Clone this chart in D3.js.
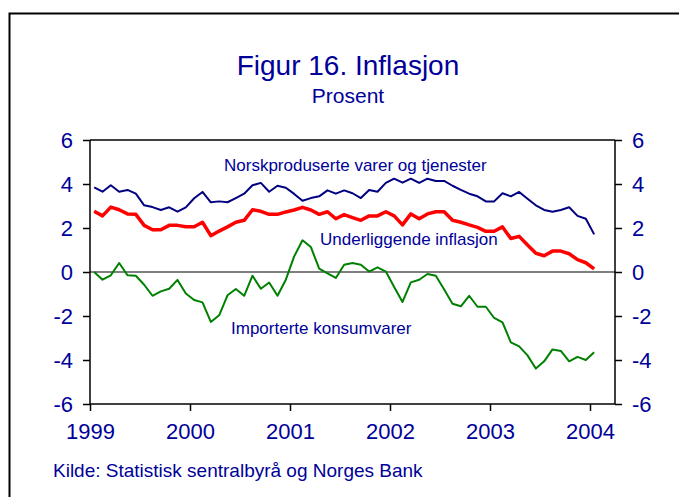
<!DOCTYPE html>
<html>
<head>
<meta charset="utf-8">
<script src="https://cdn.jsdelivr.net/npm/d3@7"></script>
<style>
  html, body { margin: 0; padding: 0; background: #fff; }
  svg { display: block; font-family: "Liberation Sans", Arial, sans-serif; }
</style>
</head>
<body>
<svg id="chart" width="679" height="497"></svg>
<script>
// ---- Data (monthly, Jan 1999 – Jan 2004, 12-month change in percent) ----
const startYear = 1999;
const yearTicks = [1999, 2000, 2001, 2002, 2003, 2004];
const yTicks = [-6, -4, -2, 0, 2, 4, 6];

const norskproduserte = [
  3.85, 3.65, 3.94, 3.65, 3.73, 3.56, 3.03, 2.95, 2.82, 2.94, 2.74, 2.94,
  3.35, 3.64, 3.17, 3.21, 3.17, 3.36, 3.56, 3.94, 4.05, 3.65, 3.92, 3.83,
  3.55, 3.24, 3.36, 3.44, 3.71, 3.56, 3.71, 3.58, 3.36, 3.73, 3.65, 4.05,
  4.24, 4.06, 4.24, 4.05, 4.24, 4.14, 4.14, 3.92, 3.73, 3.56, 3.44, 3.21,
  3.21, 3.58, 3.44, 3.64, 3.33, 3.03, 2.82, 2.74, 2.82, 2.94, 2.55, 2.42,
  1.71
];
const underliggende = [
  2.76, 2.55, 2.95, 2.83, 2.64, 2.62, 2.12, 1.92, 1.92, 2.12, 2.12, 2.06,
  2.06, 2.26, 1.65, 1.86, 2.05, 2.26, 2.35, 2.83, 2.76, 2.62, 2.62, 2.73,
  2.82, 2.94, 2.82, 2.62, 2.74, 2.42, 2.61, 2.47, 2.35, 2.55, 2.55, 2.74,
  2.55, 2.14, 2.64, 2.42, 2.64, 2.74, 2.74, 2.35, 2.26, 2.14, 2.03, 1.85,
  1.85, 2.05, 1.52, 1.62, 1.23, 0.85, 0.74, 0.95, 0.95, 0.83, 0.56, 0.42,
  0.14
];
const importerte = [
  0.00, -0.35, -0.15, 0.41, -0.15, -0.17, -0.58, -1.08, -0.88, -0.76, -0.36, -0.98,
  -1.27, -1.38, -2.27, -1.97, -1.06, -0.77, -1.08, -0.17, -0.76, -0.48, -1.08, -0.35,
  0.71, 1.44, 1.14, 0.15, -0.06, -0.27, 0.33, 0.41, 0.33, 0.02, 0.21, 0.02,
  -0.68, -1.36, -0.47, -0.35, -0.09, -0.17, -0.80, -1.44, -1.56, -1.08, -1.58, -1.58,
  -2.09, -2.29, -3.20, -3.38, -3.79, -4.39, -4.06, -3.52, -3.59, -4.06, -3.86, -4.00,
  -3.65
];

const seriesNames = ["Norskproduserte varer og tjenester", "Underliggende inflasjon", "Importerte konsumvarer"];
const title = "Figur 16. Inflasjon";
const subtitle = "Prosent";
const source = "Kilde: Statistisk sentralbyrå og Norges Bank";

// ---- Layout ----
const svg = d3.select("#chart");
const textColor = "#000099";
const plot = { left: 90, right: 615, top: 140, bottom: 404 };

// time position in fractional years; each monthly point sits at mid-month
const tOf = i => startYear + (i + 0.5) / 12;

const x = d3.scaleLinear().domain([1999, 2004.25]).range([plot.left, plot.right]);
const y = d3.scaleLinear().domain([-6, 6]).range([plot.bottom, plot.top]);

// outer frame
svg.append("rect")
  .attr("x", 9.5).attr("y", 13.5)
  .attr("width", 800).attr("height", 800)
  .attr("fill", "none").attr("stroke", "#000").attr("stroke-width", 2);

// titles
svg.append("text").attr("x", 348).attr("y", 75)
  .attr("text-anchor", "middle").attr("fill", textColor)
  .attr("font-size", 28).text(title);
svg.append("text").attr("x", 348).attr("y", 103)
  .attr("text-anchor", "middle").attr("fill", textColor)
  .attr("font-size", 21).text(subtitle);

// zero line
svg.append("line")
  .attr("x1", plot.left).attr("x2", plot.right)
  .attr("y1", y(0)).attr("y2", y(0))
  .attr("stroke", "#000").attr("stroke-width", 1.2);

// axes
const tickLen = 7;
const leftAxis = d3.axisLeft(y).tickValues(yTicks).tickSize(tickLen).tickPadding(10).tickFormat(d3.format("d"));
const rightAxis = d3.axisRight(y).tickValues(yTicks).tickSize(tickLen).tickPadding(10).tickFormat(d3.format("d"));
const bottomAxis = d3.axisBottom(x).tickValues(yearTicks).tickSize(tickLen).tickPadding(12).tickFormat(d3.format("d"));

function styleAxis(g) {
  g.selectAll("path.domain").attr("stroke", "#000").attr("stroke-width", 1.5);
  g.selectAll(".tick line").attr("stroke", "#000").attr("stroke-width", 1.5);
  g.selectAll(".tick text").attr("fill", textColor).attr("font-size", 22)
    .attr("font-family", "'Liberation Sans', Arial, sans-serif");
}

const gl = svg.append("g").attr("transform", `translate(${plot.left},0)`).call(leftAxis);
gl.select("path.domain").attr("d", `M0,${plot.top}V${plot.bottom}`);
styleAxis(gl);
gl.selectAll(".tick text").text(d => d < 0 ? "-" + Math.abs(d) : d);

const gr = svg.append("g").attr("transform", `translate(${plot.right},0)`).call(rightAxis);
gr.select("path.domain").attr("d", `M0,${plot.top}V${plot.bottom}`);
styleAxis(gr);
gr.selectAll(".tick text").text(d => d < 0 ? "-" + Math.abs(d) : d);

const gb = svg.append("g").attr("transform", `translate(0,${plot.bottom})`).call(bottomAxis);
gb.select("path.domain").attr("d", `M${plot.left},0H${plot.right}`);
styleAxis(gb);

// top border
svg.append("line")
  .attr("x1", plot.left).attr("x2", plot.right)
  .attr("y1", plot.top).attr("y2", plot.top)
  .attr("stroke", "#000").attr("stroke-width", 1.5);

// lines
const line = d3.line().x((d, i) => x(tOf(i))).y(d => y(d));
const series = [
  { data: norskproduserte, color: "#000080", width: 2 },
  { data: underliggende, color: "#ff0000", width: 3.5 },
  { data: importerte, color: "#008000", width: 2 }
];
series.forEach(s => {
  svg.append("path").datum(s.data)
    .attr("d", line)
    .attr("fill", "none")
    .attr("stroke", s.color)
    .attr("stroke-width", s.width)
    .attr("stroke-linejoin", "round");
});

// series labels
const labels = [
  { text: seriesNames[0], x: 224, y: 171 },
  { text: seriesNames[1], x: 320, y: 245 },
  { text: seriesNames[2], x: 231, y: 334 }
];
labels.forEach(l => {
  svg.append("text").attr("x", l.x).attr("y", l.y)
    .attr("fill", textColor).attr("font-size", 17).text(l.text);
});

// source
svg.append("text").attr("x", 53).attr("y", 477)
  .attr("fill", textColor).attr("font-size", 19).text(source);
</script>
</body>
</html>
